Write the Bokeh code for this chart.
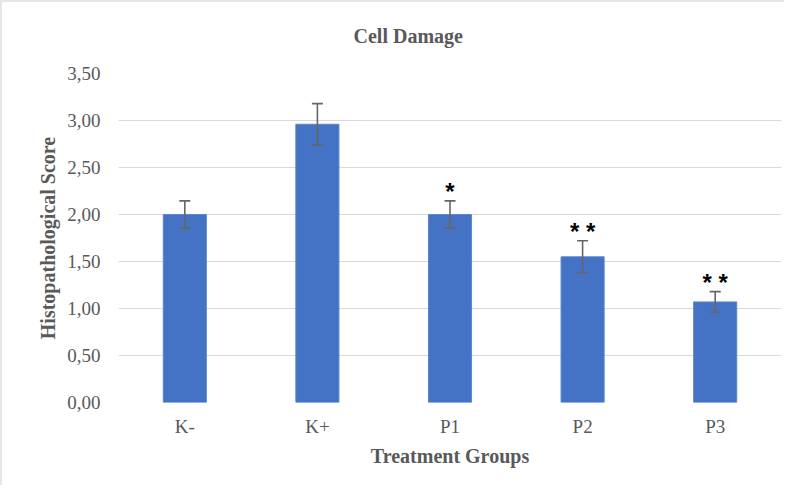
from bokeh.plotting import figure
from bokeh.models import ColumnDataSource, Whisker, TeeHead, FixedTicker, CustomJSTickFormatter, Range1d
from bokeh.core.properties import value
from bokeh.embed import file_html
from bokeh.resources import INLINE

groups = ["K-", "K+", "P1", "P2", "P3"]
scores = [2.00, 2.96, 2.00, 1.55, 1.07]
errors = [0.145, 0.22, 0.145, 0.17, 0.11]
marks = ["", "", "*", "* *", "* *"]
y_ticks = [0, 0.5, 1.0, 1.5, 2.0, 2.5, 3.0, 3.5]
title_text = "Cell Damage"

upper = [s + e for s, e in zip(scores, errors)]
lower = [s - e for s, e in zip(scores, errors)]
src = ColumnDataSource(dict(x=groups, top=scores, upper=upper, lower=lower, mark=marks))

GREY = "#595959"
SERIF = "Liberation Serif"

p = figure(x_range=groups, y_range=Range1d(0, 3.5), width=784, height=485,
           output_backend="svg", toolbar_location=None,
           min_border_left=116, min_border_right=5, min_border_top=71, min_border_bottom=85)

p.vbar(x="x", top="top", width=0.325, source=src, fill_color="#4472C4",
       line_color="#5B86D0", line_width=1)

w = Whisker(source=src, base="x", upper="upper", lower="lower",
            line_color="#666666", line_width=1.6, level="overlay",
            upper_head=TeeHead(size=11, line_color="#666666", line_width=1.6),
            lower_head=TeeHead(size=11, line_color="#666666", line_width=1.6))
p.add_layout(w)

p.text(x="x", y="upper", text="mark", source=src, text_align="center",
       text_baseline="alphabetic", y_offset=-9, text_font=value("Liberation Sans"),
       text_font_size="24px", text_font_style="bold", text_color="black")

# an empty second line lifts the title away from the plot area
p.title.text = title_text + "\n\u00a0"
p.title.align = "left"
p.title.offset = 235
p.title.standoff = 10
p.title.text_font = SERIF
p.title.text_font_size = "20px"
p.title.text_font_style = "bold"
p.title.text_color = GREY

p.yaxis.ticker = FixedTicker(ticks=y_ticks)
p.yaxis.formatter = CustomJSTickFormatter(code="return tick.toFixed(2).replace('.', ',');")
p.yaxis.axis_label = "Histopathological Score"
p.xaxis.axis_label = "Treatment Groups"

for ax in [p.xaxis[0], p.yaxis[0]]:
    ax.axis_line_color = None
    ax.major_tick_line_color = None
    ax.minor_tick_line_color = None
    ax.major_label_text_font = SERIF
    ax.major_label_text_font_size = "19px"
    ax.major_label_text_color = GREY
    ax.axis_label_text_font = SERIF
    ax.axis_label_text_font_size = "20px"
    ax.axis_label_text_font_style = "bold"
    ax.axis_label_text_color = GREY

p.yaxis.major_label_standoff = 12
p.yaxis.axis_label_standoff = 5
p.xaxis.major_label_standoff = 7
p.xaxis.axis_label_standoff = 5

p.xgrid.grid_line_color = None
p.ygrid.ticker = FixedTicker(ticks=y_ticks)
p.ygrid.grid_line_color = "#d9d9d9"
p.ygrid.grid_line_width = 1.2
p.outline_line_color = None
p.background_fill_color = "white"
p.border_fill_color = "white"
p.styles = {"border-left": "2px solid #e6e6e6", "border-top": "2px solid #e6e6e6"}

open("out.html", "w").write(file_html(p, INLINE))
